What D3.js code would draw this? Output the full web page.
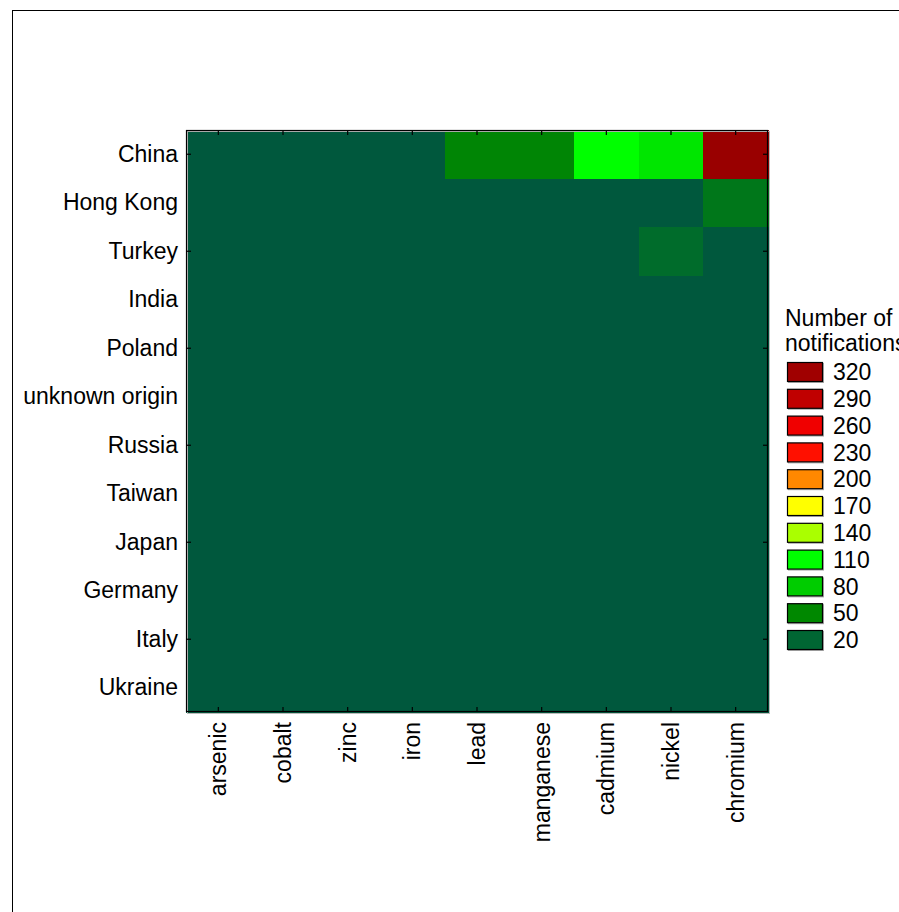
<!DOCTYPE html>
<html>
<head>
<meta charset="utf-8">
<script src="https://cdn.jsdelivr.net/npm/d3@7"></script>
<style>
  html, body { margin: 0; padding: 0; background: #fff; overflow: hidden; }
  svg { display: block; font-family: "Liberation Sans", Arial, sans-serif; }
</style>
</head>
<body>
<svg id="chart" width="899" height="912"></svg>
<script>
// ---- data ----
const countries = ["China", "Hong Kong", "Turkey", "India", "Poland", "unknown origin",
  "Russia", "Taiwan", "Japan", "Germany", "Italy", "Ukraine"];
const metals = ["arsenic", "cobalt", "zinc", "iron", "lead", "manganese", "cadmium", "nickel", "chromium"];
// notifications per country (rows) and metal (columns)
const chinaValues     = [8, 8, 8, 8, 47, 47, 110, 95, 327];
const hongKongValues  = [8, 8, 8, 8, 8, 8, 8, 8, 35];
const turkeyValues    = [8, 8, 8, 8, 8, 8, 8, 25, 8];
const indiaValues     = [8, 8, 8, 8, 8, 8, 8, 8, 8];
const polandValues    = [8, 8, 8, 8, 8, 8, 8, 8, 8];
const unknownValues   = [8, 8, 8, 8, 8, 8, 8, 8, 8];
const russiaValues    = [8, 8, 8, 8, 8, 8, 8, 8, 8];
const taiwanValues    = [8, 8, 8, 8, 8, 8, 8, 8, 8];
const japanValues     = [8, 8, 8, 8, 8, 8, 8, 8, 8];
const germanyValues   = [8, 8, 8, 8, 8, 8, 8, 8, 8];
const italyValues     = [8, 8, 8, 8, 8, 8, 8, 8, 8];
const ukraineValues   = [8, 8, 8, 8, 8, 8, 8, 8, 8];
const rows = [chinaValues, hongKongValues, turkeyValues, indiaValues, polandValues, unknownValues,
  russiaValues, taiwanValues, japanValues, germanyValues, italyValues, ukraineValues];
const legendLevels = [320, 290, 260, 230, 200, 170, 140, 110, 80, 50, 20];
const legendColors = ["#A00000", "#C00000", "#F00000", "#FF1000", "#FF8800", "#FFFF00",
  "#AAFF00", "#00FF00", "#00CC00", "#008800", "#006633"];
const legendTitle = ["Number of", "notifications"];
const yTickCountries = ["China", "Turkey", "Poland", "Russia", "Japan", "Italy"];

// ---- layout ----
const svg = d3.select("#chart");
const M = { left: 186, top: 130, right: 768, bottom: 712 };

// outer frame
svg.append("rect").attr("x", 12.5).attr("y", 10.5).attr("width", 1000).attr("height", 1000)
  .attr("fill", "none").attr("stroke", "#000").attr("stroke-width", 1);

const x = d3.scaleBand().domain(metals).range([M.left, M.right]).padding(0);
const y = d3.scaleBand().domain(countries).range([M.top, M.bottom]).padding(0);

// colour scale through legend levels (extended at ends)
const colorDomain = [0].concat(legendLevels.slice().reverse(), [350]);
const colorRange = ["#004E43"].concat(legendColors.slice().reverse(), ["#800000"]);
const color = d3.scaleLinear().domain(colorDomain).range(colorRange).interpolate(d3.interpolateRgb).clamp(true);

const cells = [];
rows.forEach((r, i) => r.forEach((v, j) => cells.push({ c: countries[i], m: metals[j], v })));

svg.append("g").selectAll("rect").data(cells).join("rect")
  .attr("x", d => x(d.m)).attr("y", d => y(d.c))
  .attr("width", x.bandwidth() + 0.5).attr("height", y.bandwidth() + 0.5)
  .attr("fill", d => color(d.v)).attr("shape-rendering", "crispEdges");

// plot border with light shadow
svg.append("rect").attr("x", M.left + 1.5).attr("y", M.top + 1.5)
  .attr("width", M.right - M.left).attr("height", M.bottom - M.top)
  .attr("fill", "none").attr("stroke", "#bbb").attr("stroke-width", 1);
svg.append("rect").attr("x", M.left + 0.5).attr("y", M.top + 0.5)
  .attr("width", M.right - M.left - 1).attr("height", M.bottom - M.top - 1)
  .attr("fill", "none").attr("stroke", "#000").attr("stroke-width", 1.2);

// axes with inward ticks
const fs = 23;
const xAxisB = d3.axisBottom(x).tickSize(-5).tickSizeOuter(0).tickPadding(10);
const gxb = svg.append("g").attr("transform", `translate(0,${M.bottom})`).call(xAxisB);
gxb.select(".domain").remove();
gxb.selectAll("text").attr("font-size", fs).attr("fill", "#000")
  .attr("transform", "rotate(-90)").attr("text-anchor", "end")
  .attr("x", -10).attr("y", 0).attr("dy", "0.35em")
  .attr("font-family", "Liberation Sans, Arial, sans-serif");

const xAxisT = d3.axisTop(x).tickSize(-5).tickSizeOuter(0).tickFormat("");
const gxt = svg.append("g").attr("transform", `translate(0,${M.top})`).call(xAxisT);
gxt.select(".domain").remove();

const yAxisL = d3.axisLeft(y).tickSize(0).tickPadding(8);
const gyl = svg.append("g").attr("transform", `translate(${M.left},0)`).call(yAxisL);
gyl.select(".domain").remove();
gyl.selectAll("text").attr("font-size", fs).attr("fill", "#000")
  .attr("font-family", "Liberation Sans, Arial, sans-serif");

const yTickL = d3.axisLeft(y).tickValues(yTickCountries).tickSize(-5).tickSizeOuter(0).tickFormat("");
const gytl = svg.append("g").attr("transform", `translate(${M.left},0)`).call(yTickL);
gytl.select(".domain").remove();
const yTickR = d3.axisRight(y).tickValues(yTickCountries).tickSize(-5).tickSizeOuter(0).tickFormat("");
const gytr = svg.append("g").attr("transform", `translate(${M.right},0)`).call(yTickR);
gytr.select(".domain").remove();
svg.selectAll(".tick line").attr("stroke", "#000").attr("stroke-width", 1.2);

// legend
const lg = svg.append("g");
lg.selectAll("text.title").data(legendTitle).join("text").attr("class", "title")
  .attr("x", 785).attr("y", (d, i) => 326 + i * 25).attr("font-size", fs).text(d => d);
const ly = d3.scalePoint().domain(legendLevels).range([362, 630]);
const items = lg.selectAll("g.item").data(legendLevels).join("g").attr("class", "item")
  .attr("transform", d => `translate(787,${ly(d)})`);
items.append("rect").attr("x", 1.5).attr("y", 1.5).attr("width", 35).attr("height", 19)
  .attr("fill", "none").attr("stroke", "#aaa").attr("stroke-width", 1);
items.append("rect").attr("x", 0.5).attr("y", 0.5).attr("width", 35).attr("height", 19)
  .attr("fill", (d, i) => legendColors[i]).attr("stroke", "#000").attr("stroke-width", 1.2);
items.append("text").attr("x", 46).attr("y", 10).attr("dy", "0.36em")
  .attr("font-size", fs).text(d => d);
</script>
</body>
</html>
